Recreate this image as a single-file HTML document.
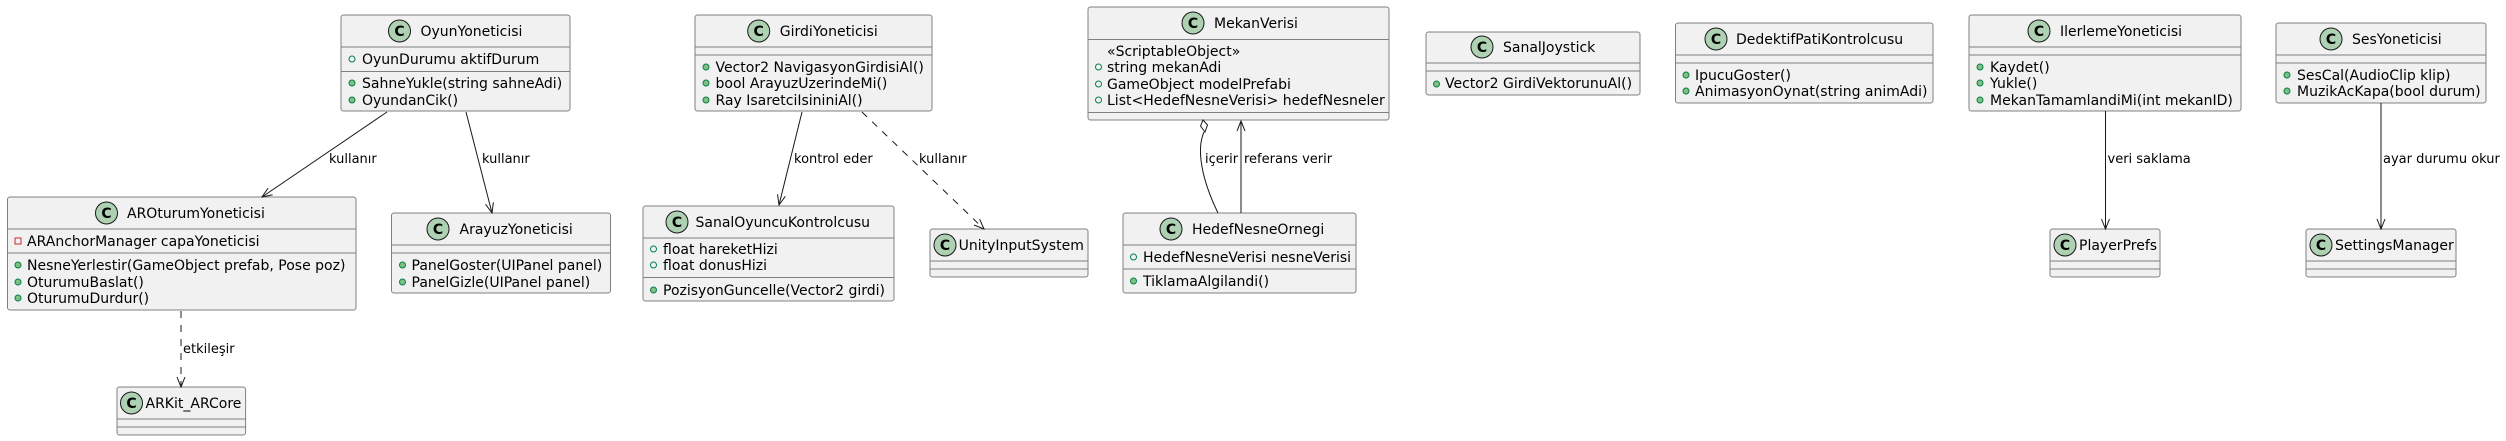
<!DOCTYPE html>
<html><head><meta charset="utf-8"><style>
html,body{margin:0;padding:0;background:#fff}
svg{display:block}
text{font-family:"DejaVu Sans","Liberation Sans",sans-serif;fill:#000}
.n{font-size:14px}
.m{font-size:14px}
.l{font-size:13px}
.b{fill:#F1F1F1;stroke:#808080;stroke-width:1}
.s{stroke:#808080;stroke-width:1}
.ic{fill:#ADD1B2;stroke:#181818;stroke-width:1}
.cc{font-size:14px;font-weight:bold;text-anchor:middle}
.pm{fill:#84BE84;stroke:#038048;stroke-width:1}
.pf{fill:none;stroke:#038048;stroke-width:1}
.pr{fill:none;stroke:#C82930;stroke-width:1}
.e{fill:none;stroke:#181818;stroke-width:1}
.d{fill:none;stroke:#181818;stroke-width:1;stroke-dasharray:7,7}
</style></head><body>
<svg width="2506" height="441" xmlns="http://www.w3.org/2000/svg">

<!-- OyunYoneticisi -->
<rect class="b" x="341" y="15" width="229" height="96" rx="2.5"/>
<line class="s" x1="341" y1="47" x2="570" y2="47"/><line class="s" x1="341" y1="71.5" x2="570" y2="71.5"/>
<circle class="ic" cx="399.5" cy="31" r="11"/><text class="cc" x="399.5" y="36">C</text>
<text class="n" x="420.5" y="36">OyunYoneticisi</text>
<circle class="pf" cx="352" cy="59" r="3"/><text class="m" x="362" y="64">OyunDurumu aktifDurum</text>
<circle class="pm" cx="352" cy="83" r="3"/><text class="m" x="362" y="88">SahneYukle(string sahneAdi)</text>
<circle class="pm" cx="352" cy="100" r="3"/><text class="m" x="362" y="105">OyundanCik()</text>

<!-- AROturumYoneticisi -->
<rect class="b" x="7.5" y="197" width="348.5" height="113" rx="2.5"/>
<line class="s" x1="7.5" y1="229" x2="356" y2="229"/><line class="s" x1="7.5" y1="253" x2="356" y2="253"/>
<circle class="ic" cx="106.5" cy="213" r="11"/><text class="cc" x="106.5" y="218">C</text>
<text class="n" x="127" y="218">AROturumYoneticisi</text>
<rect class="pr" x="15" y="238" width="6" height="6"/><text class="m" x="27" y="246">ARAnchorManager capaYoneticisi</text>
<circle class="pm" cx="18" cy="265" r="3"/><text class="m" x="27" y="270">NesneYerlestir(GameObject prefab, Pose poz)</text>
<circle class="pm" cx="18" cy="282" r="3"/><text class="m" x="27" y="287">OturumuBaslat()</text>
<circle class="pm" cx="18" cy="298" r="3"/><text class="m" x="27" y="303">OturumuDurdur()</text>

<!-- ArayuzYoneticisi -->
<rect class="b" x="391.5" y="213" width="219" height="80" rx="2.5"/>
<line class="s" x1="391.5" y1="245" x2="610.5" y2="245"/><line class="s" x1="391.5" y1="253" x2="610.5" y2="253"/>
<circle class="ic" cx="438" cy="229" r="11"/><text class="cc" x="438" y="234">C</text>
<text class="n" x="459.5" y="234">ArayuzYoneticisi</text>
<circle class="pm" cx="402.5" cy="265" r="3"/><text class="m" x="411.5" y="270">PanelGoster(UIPanel panel)</text>
<circle class="pm" cx="402.5" cy="282" r="3"/><text class="m" x="411.5" y="287">PanelGizle(UIPanel panel)</text>

<!-- ARKit_ARCore -->
<rect class="b" x="117" y="387" width="128.6" height="48" rx="2.5"/>
<line class="s" x1="117" y1="419" x2="245.6" y2="419"/><line class="s" x1="117" y1="427" x2="245.6" y2="427"/>
<circle class="ic" cx="131.5" cy="403" r="11"/><text class="cc" x="131.5" y="408">C</text>
<text class="n" x="145.5" y="408">ARKit_ARCore</text>

<!-- GirdiYoneticisi -->
<rect class="b" x="695" y="15" width="237" height="96" rx="2.5"/>
<line class="s" x1="695" y1="47" x2="932" y2="47"/><line class="s" x1="695" y1="55" x2="932" y2="55"/>
<circle class="ic" cx="758.7" cy="31" r="11"/><text class="cc" x="758.7" y="36">C</text>
<text class="n" x="779.8" y="36">GirdiYoneticisi</text>
<circle class="pm" cx="706" cy="67" r="3"/><text class="m" x="715.5" y="72">Vector2 NavigasyonGirdisiAl()</text>
<circle class="pm" cx="706" cy="83" r="3"/><text class="m" x="715.5" y="88">bool ArayuzUzerindeMi()</text>
<circle class="pm" cx="706" cy="100" r="3"/><text class="m" x="715.5" y="105">Ray IsaretciIsininiAl()</text>

<!-- SanalOyuncuKontrolcusu -->
<rect class="b" x="643" y="206" width="251" height="95" rx="2.5"/>
<line class="s" x1="643" y1="238" x2="894" y2="238"/><line class="s" x1="643" y1="277.5" x2="894" y2="277.5"/>
<circle class="ic" cx="677" cy="222" r="11"/><text class="cc" x="677" y="227">C</text>
<text class="n" x="695.5" y="227">SanalOyuncuKontrolcusu</text>
<circle class="pf" cx="653.5" cy="249" r="3"/><text class="m" x="663" y="254">float hareketHizi</text>
<circle class="pf" cx="653.5" cy="265" r="3"/><text class="m" x="663" y="270">float donusHizi</text>
<circle class="pm" cx="653.5" cy="290" r="3"/><text class="m" x="663" y="295">PozisyonGuncelle(Vector2 girdi)</text>

<!-- UnityInputSystem -->
<rect class="b" x="930" y="229" width="158" height="48" rx="2.5"/>
<line class="s" x1="930" y1="261" x2="1088" y2="261"/><line class="s" x1="930" y1="269" x2="1088" y2="269"/>
<circle class="ic" cx="945" cy="245" r="11"/><text class="cc" x="945" y="250">C</text>
<text class="n" x="958.6" y="250">UnityInputSystem</text>

<!-- MekanVerisi -->
<rect class="b" x="1088" y="7" width="301" height="113" rx="2.5"/>
<line class="s" x1="1088" y1="39.5" x2="1389" y2="39.5"/><line class="s" x1="1088" y1="112.5" x2="1389" y2="112.5"/>
<circle class="ic" cx="1193" cy="23" r="11"/><text class="cc" x="1193" y="28">C</text>
<text class="n" x="1214" y="28">MekanVerisi</text>
<text class="m" x="1107" y="56">«ScriptableObject»</text>
<circle class="pf" cx="1098.5" cy="67" r="3"/><text class="m" x="1107" y="72">string mekanAdi</text>
<circle class="pf" cx="1098.5" cy="84" r="3"/><text class="m" x="1107" y="89">GameObject modelPrefabi</text>
<circle class="pf" cx="1098.5" cy="100" r="3"/><text class="m" x="1107" y="105">List&lt;HedefNesneVerisi&gt; hedefNesneler</text>

<!-- HedefNesneOrnegi -->
<rect class="b" x="1123" y="213" width="233" height="80" rx="2.5"/>
<line class="s" x1="1123" y1="245" x2="1356" y2="245"/><line class="s" x1="1123" y1="269" x2="1356" y2="269"/>
<circle class="ic" cx="1171" cy="229" r="11"/><text class="cc" x="1171" y="234">C</text>
<text class="n" x="1192" y="234">HedefNesneOrnegi</text>
<circle class="pf" cx="1133.5" cy="257" r="3"/><text class="m" x="1143" y="262">HedefNesneVerisi nesneVerisi</text>
<circle class="pm" cx="1133.5" cy="281" r="3"/><text class="m" x="1143" y="286">TiklamaAlgilandi()</text>

<!-- SanalJoystick -->
<rect class="b" x="1426" y="32" width="214" height="63" rx="2.5"/>
<line class="s" x1="1426" y1="63" x2="1640" y2="63"/><line class="s" x1="1426" y1="71" x2="1640" y2="71"/>
<circle class="ic" cx="1482" cy="47" r="11"/><text class="cc" x="1482" y="52">C</text>
<text class="n" x="1503" y="52">SanalJoystick</text>
<circle class="pm" cx="1436.5" cy="84" r="3"/><text class="m" x="1445" y="88">Vector2 GirdiVektorunuAl()</text>

<!-- DedektifPatiKontrolcusu -->
<rect class="b" x="1675.5" y="23" width="257.5" height="80" rx="2.5"/>
<line class="s" x1="1675.5" y1="55" x2="1933" y2="55"/><line class="s" x1="1675.5" y1="63" x2="1933" y2="63"/>
<circle class="ic" cx="1716" cy="39" r="11"/><text class="cc" x="1716" y="44">C</text>
<text class="n" x="1736" y="44">DedektifPatiKontrolcusu</text>
<circle class="pm" cx="1686" cy="75" r="3"/><text class="m" x="1695" y="80">IpucuGoster()</text>
<circle class="pm" cx="1686" cy="91" r="3"/><text class="m" x="1695" y="96">AnimasyonOynat(string animAdi)</text>

<!-- IlerlemeYoneticisi -->
<rect class="b" x="1969" y="15" width="272" height="96" rx="2.5"/>
<line class="s" x1="1969" y1="47" x2="2241" y2="47"/><line class="s" x1="1969" y1="55" x2="2241" y2="55"/>
<circle class="ic" cx="2039" cy="31" r="11"/><text class="cc" x="2039" y="36">C</text>
<text class="n" x="2060" y="36">IlerlemeYoneticisi</text>
<circle class="pm" cx="1980" cy="67" r="3"/><text class="m" x="1990" y="72">Kaydet()</text>
<circle class="pm" cx="1980" cy="83" r="3"/><text class="m" x="1990" y="88">Yukle()</text>
<circle class="pm" cx="1980" cy="100" r="3"/><text class="m" x="1990" y="105">MekanTamamlandiMi(int mekanID)</text>

<!-- PlayerPrefs -->
<rect class="b" x="2050" y="229" width="110" height="48" rx="2.5"/>
<line class="s" x1="2050" y1="261" x2="2160" y2="261"/><line class="s" x1="2050" y1="269" x2="2160" y2="269"/>
<circle class="ic" cx="2065" cy="245" r="11"/><text class="cc" x="2065" y="250">C</text>
<text class="n" x="2079" y="250">PlayerPrefs</text>

<!-- SesYoneticisi -->
<rect class="b" x="2276" y="23" width="210" height="80" rx="2.5"/>
<line class="s" x1="2276" y1="55" x2="2486" y2="55"/><line class="s" x1="2276" y1="63" x2="2486" y2="63"/>
<circle class="ic" cx="2331" cy="39" r="11"/><text class="cc" x="2331" y="44">C</text>
<text class="n" x="2352" y="44">SesYoneticisi</text>
<circle class="pm" cx="2287" cy="75" r="3"/><text class="m" x="2297" y="80">SesCal(AudioClip klip)</text>
<circle class="pm" cx="2287" cy="91" r="3"/><text class="m" x="2297" y="96">MuzikAcKapa(bool durum)</text>

<!-- SettingsManager -->
<rect class="b" x="2306" y="229" width="150" height="48" rx="2.5"/>
<line class="s" x1="2306" y1="261" x2="2456" y2="261"/><line class="s" x1="2306" y1="269" x2="2456" y2="269"/>
<circle class="ic" cx="2321" cy="245" r="11"/><text class="cc" x="2321" y="250">C</text>
<text class="n" x="2335" y="250">SettingsManager</text>

<!-- connectors -->
<line class="e" x1="387" y1="112" x2="262" y2="197"/>
<polyline class="e" points="272.6,194.7 262,197 268.1,188.1"/>
<text class="l" x="329" y="163">kullanır</text>

<line class="e" x1="466" y1="112" x2="492" y2="213"/>
<polyline class="e" points="493.4,202.3 492,213 485.6,204.3"/>
<text class="l" x="482" y="163">kullanır</text>

<line class="d" x1="181" y1="311" x2="181" y2="387"/>
<polyline class="e" points="177,377 181,387 185,377"/>
<text class="l" x="183" y="353">etkileşir</text>

<line class="e" x1="802" y1="112" x2="779" y2="205"/>
<polyline class="e" points="785.3,196.3 779,205 777.5,194.3"/>
<text class="l" x="794" y="163">kontrol eder</text>

<line class="d" x1="862" y1="112" x2="984" y2="229"/>
<polyline class="e" points="979.6,219.2 984,229 974,225"/>
<text class="l" x="919" y="163">kullanır</text>

<polygon points="1203,120 1207.5,125 1205,132 1200.5,126" fill="#fff" stroke="#181818" stroke-width="1"/>
<path class="e" d="M1204,132 C1196,150 1202,180 1218,213"/>
<text class="l" x="1205" y="163">içerir</text>

<line class="e" x1="1241" y1="213" x2="1241" y2="121"/>
<polyline class="e" points="1237,131 1241,121 1245,131"/>
<text class="l" x="1244" y="163">referans verir</text>

<line class="e" x1="2105.5" y1="111" x2="2105.5" y2="229"/>
<polyline class="e" points="2101.5,219 2105.5,229 2109.5,219"/>
<text class="l" x="2107.5" y="163">veri saklama</text>

<line class="e" x1="2381" y1="103" x2="2381" y2="229"/>
<polyline class="e" points="2377,219 2381,229 2385,219"/>
<text class="l" x="2383" y="163">ayar durumu okur</text>
</svg>
</body></html>
